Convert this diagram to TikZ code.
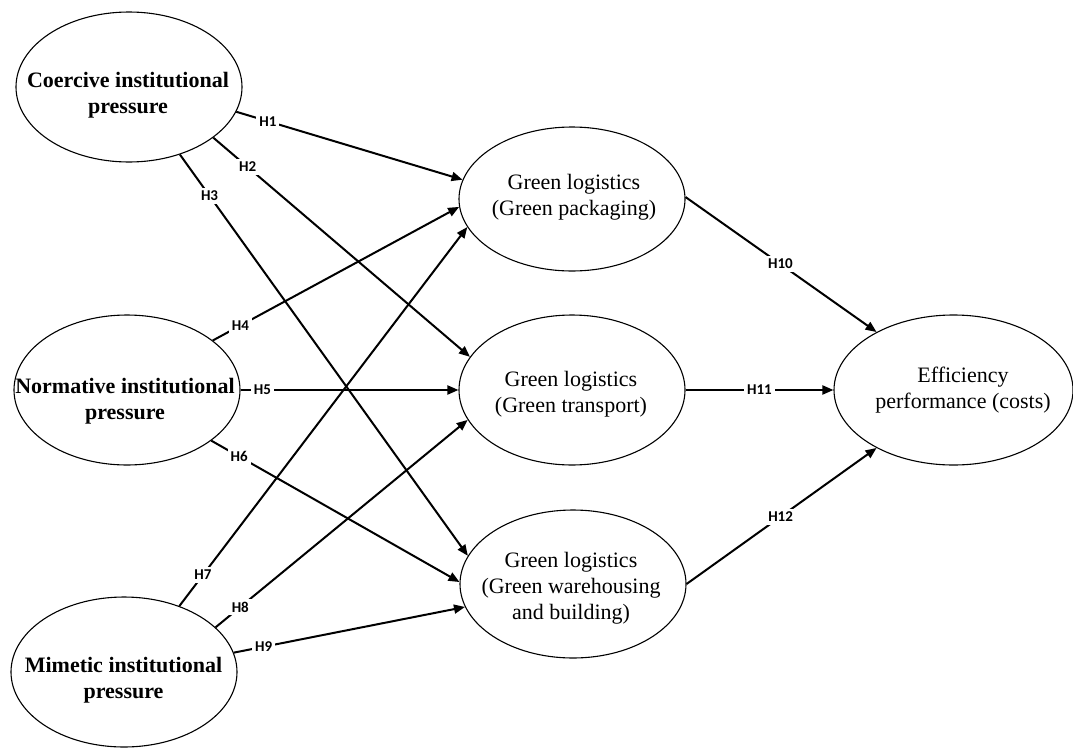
\documentclass[tikz,border=0pt]{standalone}
\usepackage{fontspec}
\setmainfont{Liberation Serif}
\newfontfamily\lblfont{Carlito}
\usetikzlibrary{shapes.geometric,arrows.meta}
\begin{document}
\begin{tikzpicture}[x=1pt,y=-1pt,
  ell/.style={draw, ellipse, line width=1.1pt, inner sep=0pt, minimum width=226pt, minimum height=150pt},
  lt/.style={align=center, inner sep=0pt, font=\fontsize{22}{26}\selectfont\bfseries},
  rt/.style={align=center, inner sep=0pt, font=\fontsize{22}{26}\selectfont},
  conn/.style={line width=2pt, -{Triangle[length=11pt,width=9pt]}},
  hl/.style={fill=white, inner sep=3pt, font=\lblfont\bfseries\fontsize{15}{17}\selectfont}]
\useasboundingbox (0,0) rectangle (1073,747);
% ellipses
\node[ell] (coe) at (129,87) {};
\node[ell] (nor) at (127,390) {};
\node[ell] (mim) at (124,672) {};
\node[ell, minimum height=144pt] (pack) at (572,199) {};
\node[ell] (trans) at (572,390) {};
\node[ell, minimum height=148pt] (ware) at (573,584) {};
\node[ell, minimum width=239pt] (eff) at (953.5,390) {};
% texts
\node[lt] (coet) at (128,95) {Coercive institutional\\pressure};
\node[lt] (nort) at (125,401) {Normative institutional\\pressure};
\node[lt] (mimt) at (123.5,680) {Mimetic institutional\\pressure};
\node[rt] (packt) at (574,197) {Green logistics\\(Green packaging)};
\node[rt] (transt) at (571,394) {Green logistics\\(Green transport)};
\node[rt] (waret) at (571,588) {Green logistics\\(Green warehousing\\and building)};
\node[rt] (efft) at (963,390) {Efficiency\\performance (costs)};
% connectors
\draw[conn] (coe.-13) -- node[hl,pos=0.14]{H1} (pack.170);
\draw[conn] (coe.-31) -- node[hl,pos=0.134]{H2} (trans.162.6);
\draw[conn] (coe.-53.8) -- node[hl,pos=0.103]{H3} (ware.165.1);
\draw[conn] (nor.30) -- node[hl,pos=0.112]{H4} (pack.-176.4);
\draw[conn] (nor.0) -- node[hl,pos=0.10]{H5} (trans.180);
\draw[conn] (nor.-31.1) -- node[hl,pos=0.112]{H6} (ware.179.5);
\draw[conn] (mim.50.3) -- node[hl,pos=0.082]{H7} (pack.-165.2);
\draw[conn] (mim.26.3) -- node[hl,pos=0.098]{H8} (trans.-164.9);
\draw[conn] (mim.10.5) -- node[hl,pos=0.129]{H9} (ware.-168.5);
\draw[conn] (pack.1.5) -- node[hl,pos=0.497]{H10} (eff.143.5);
\draw[conn] (trans.0) -- node[hl,pos=0.5]{H11} (eff.180);
\draw[conn] (ware.0) -- node[hl,pos=0.495]{H12} (eff.-143.1);
\end{tikzpicture}
\end{document}
